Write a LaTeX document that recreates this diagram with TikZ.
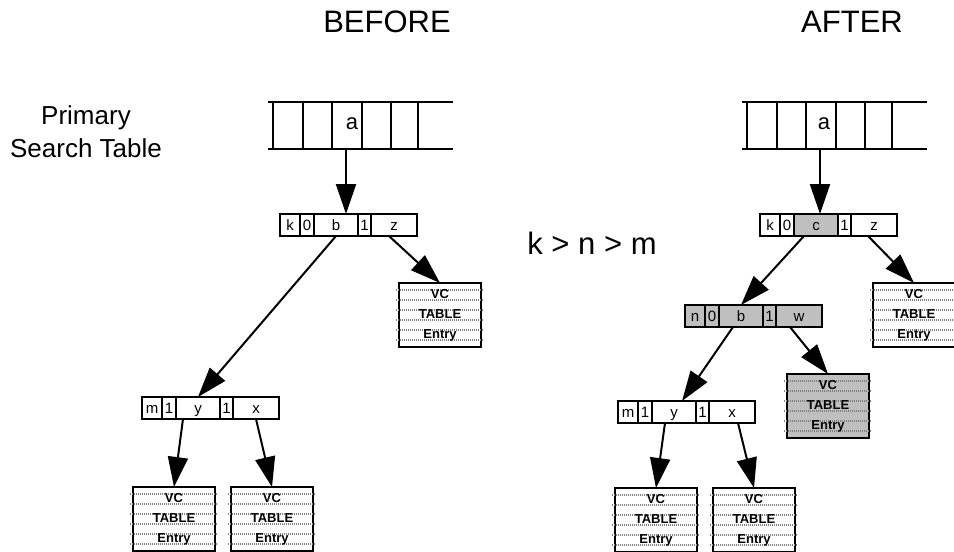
\documentclass[tikz,border=0pt]{standalone}
\usepackage{fontspec}
\setmainfont{Liberation Sans}
\usetikzlibrary{arrows.meta,positioning}

\tikzset{
  cell/.style={draw,line width=1.8pt,minimum height=22pt,inner sep=0pt,outer sep=0pt,
    text height=12pt,text depth=1.5pt,font=\fontsize{15}{15}\selectfont},
  shaded/.style={fill=black!25},
  vcbox/.style={draw,line width=2pt,minimum width=82pt,minimum height=64pt,inner sep=0pt,outer sep=0pt},
  vctext/.style={align=center,inner sep=0pt,font=\fontsize{13}{20}\selectfont\bfseries},
  stipple/.style={draw=black!50,line width=1.4pt,dash pattern=on 1pt off 1pt},
  ptr/.style={line width=2pt,-{Triangle[length=30pt,width=20pt]}},
  title/.style={font=\fontsize{31}{31}\selectfont},
  tabline/.style={line width=2pt},
}

% key record: [style of all cells]{name}{position}{five labels}{style of middle cell}
\newcommand\keyrec[9][]{%
  \node[cell,#1,minimum width=20pt,anchor=west] (#2-1) at (#3) {#4};
  \node[cell,#1,minimum width=14pt,right=0pt of #2-1] (#2-2) {#5};
  \node[cell,#1,minimum width=44pt,right=0pt of #2-2,#9] (#2-3) {#6};
  \node[cell,#1,minimum width=13pt,right=0pt of #2-3] (#2-4) {#7};
  \node[cell,#1,minimum width=46pt,right=0pt of #2-4] (#2-5) {#8};
}

% VC table entry: [style]{name}{centre}
\newcommand\vcentry[3][]{%
  \node[vcbox,#1] (#2) at (#3) {};
  \foreach \dy in {7,17,27,37,47,57}
    \draw[stipple] ([xshift=-3pt,yshift=-\dy pt]#2.north west) -- ([xshift=3pt,yshift=-\dy pt]#2.north east);
  \node[vctext] (#2-t) at (#2) {VC\\TABLE\\Entry};
}

\begin{document}
\begin{tikzpicture}[x=1pt,y=-1pt]
  \useasboundingbox (0,0) rectangle (954,552);

  % headings
  \node[title] (before) at (387,22) {BEFORE};
  \node[title] (after) at (852,22) {AFTER};
  \node[align=center,font=\fontsize{26}{33}\selectfont] (pst) at (86,132) {Primary\\Search Table};
  \node[title] (order) at (592,243) {k > n > m};

  % primary search tables
  \foreach \s/\d in {b/0,a/474}{
    \draw[tabline] (268+\d,101.7) -- (453+\d,101.7) (268+\d,149) -- (453+\d,149);
    \foreach \x in {273,303,332,362,391,418}
      \draw[tabline] (\x+\d,101.7) -- (\x+\d,149);
  }
  \node[font=\fontsize{22}{22}\selectfont,inner sep=0pt] (tab-b) at (352,124) {a};
  \node[font=\fontsize{22}{22}\selectfont,inner sep=0pt] (tab-a) at (824,124) {a};
  \coordinate (out-b) at (346,149);
  \coordinate (out-a) at (820,149);

  % before
  \keyrec{kb}{280,225}{k}{0}{b}{1}{z}{}
  \keyrec{mb}{142,408}{m}{1}{y}{1}{x}{}
  \vcentry{vb1}{440,315}
  \vcentry{vb2}{174,519}
  \vcentry{vb3}{272,519}

  % after
  \keyrec{ka}{760,225}{k}{0}{c}{1}{z}{shaded}
  \keyrec[shaded]{na}{685,316}{n}{0}{b}{1}{w}{}
  \keyrec{ma}{618,412}{m}{1}{y}{1}{x}{}
  \vcentry{va1}{914,315}
  \vcentry[shaded]{va2}{828,406}
  \vcentry{va3}{656,520}
  \vcentry{va4}{754,520}

  % pointers
  \draw[ptr] (out-b) -- (out-b |- kb-3.north);
  \draw[ptr] (kb-3.south) -- (mb-3.north);
  \draw[ptr] ([xshift=-5pt]kb-5.south) -- (vb1.north);
  \draw[ptr] ([xshift=-15pt]mb-3.south) -- (vb2.north);
  \draw[ptr] (mb-5.south) -- (vb3.north);

  \draw[ptr] (out-a) -- (out-a |- ka-3.north);
  \draw[ptr] ([xshift=-12pt]ka-3.south) -- (na-3.north);
  \draw[ptr] ([xshift=-6pt]ka-5.south) -- (va1.north);
  \draw[ptr] ([xshift=-8pt]na-3.south) -- ([xshift=8pt]ma-3.north);
  \draw[ptr] ([xshift=-9pt]na-5.south) -- (va2.north);
  \draw[ptr] ([xshift=-9pt]ma-3.south) -- (va3.north);
  \draw[ptr] ([xshift=6pt]ma-5.south) -- (va4.north);
\end{tikzpicture}
\end{document}
